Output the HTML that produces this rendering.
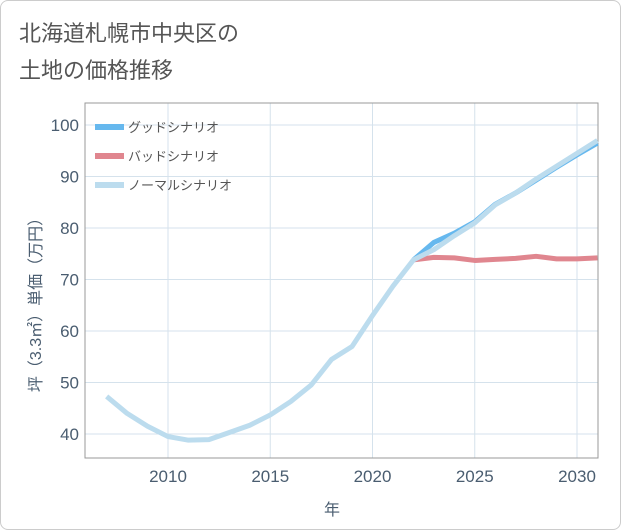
<!DOCTYPE html>
<html><head><meta charset="utf-8"><style>
body{margin:0;background:#fff;font-family:"Liberation Sans","Noto Sans CJK JP",sans-serif}
#wrap{position:relative;width:621px;height:530px;box-sizing:border-box;border:1px solid #ccc;border-radius:8px;overflow:hidden}
</style></head><body>
<div id="wrap">
<svg id="c" width="621" height="530"></svg>
</div>
<script>
const years=[2007,2008,2009,2010,2011,2012,2013,2014,2015,2016,2017,2018,2019,2020,2021,2022,2023,2024,2025,2026,2027,2028,2029,2030,2031];
const normal=[47.3,44,41.5,39.5,38.8,38.9,40.3,41.7,43.7,46.3,49.5,54.5,57,63,68.7,73.8,75.8,78.5,81,84.5,86.8,89.5,92,94.5,97];
const goodYears=[2022,2023,2024,2025,2026,2027,2028,2029,2030,2031];
const good=[73.8,77.2,79,81.2,84.6,86.8,89.3,91.8,94.2,96.5];
const bad=[73.8,74.3,74.2,73.7,73.9,74.1,74.5,74.0,74.0,74.2];
const xTicks=[2010,2015,2020,2025,2030];
const yTicks=[40,50,60,70,80,90,100];
const NS='http://www.w3.org/2000/svg';
const svg=document.getElementById('c');
const L=84,R=597,T=102,B=457;
const x=v=>167+(v-2010)*20.45;
const y=v=>433-(v-40)*5.15;
const AX='#4a5d70';
function el(t,a,txt){const e=document.createElementNS(NS,t);for(const k in a)e.setAttribute(k,a[k]);if(txt!==undefined)e.textContent=txt;svg.appendChild(e);return e;}
let t=el('text',{x:18,y:40,'font-size':22,fill:'#555'},'北海道札幌市中央区の');

t=el('text',{x:18,y:77,'font-size':22,fill:'#555'},'土地の価格推移');

yTicks.forEach(v=>{let g=el('line',{x1:L,x2:R,y1:y(v),y2:y(v),stroke:'#d5e2ec','stroke-width':1});

let l=el('text',{x:L-6,y:y(v)+6,'text-anchor':'end','font-size':17,fill:AX},v);
});
xTicks.forEach(v=>{let g=el('line',{x1:x(v),x2:x(v),y1:T,y2:B,stroke:'#d5e2ec','stroke-width':1});

let l=el('text',{x:x(v),y:B+24,'text-anchor':'middle','font-size':17,fill:AX},v);
});
let f=el('rect',{x:L,y:T,width:R-L,height:B-T,fill:'none',stroke:'#999','stroke-width':1});

t=el('text',{x:331,y:514,'text-anchor':'middle','font-size':16,fill:AX},'年');

t=el('text',{x:0,y:0,'text-anchor':'middle','font-size':16,fill:AX,transform:'translate(40,300) rotate(-90)'},'坪（3.3㎡）単価（万円）');

function line(xs,vs,col,w,name){const d=xs.map((v,i)=>(i?'L':'M')+x(v)+','+y(vs[i])).join('');
const p=el('path',{d,fill:'none',stroke:col,'stroke-width':w,'stroke-linejoin':'round'});
}
line(goodYears,bad,'#e0868f',5,'bad-scenario-line');
line(goodYears,good,'#66b8ee',5,'good-scenario-line');
line(years,normal,'#bcdcee',5,'normal-scenario-line');
const leg=[['グッドシナリオ','#66b8ee'],['バッドシナリオ','#e0868f'],['ノーマルシナリオ','#bcdcee']];
leg.forEach((e,i)=>{const yy=126+i*29;
let r=el('rect',{x:94,y:yy-3,width:29,height:6,fill:e[1]});
let l=el('text',{x:127,y:yy+5,'font-size':13,fill:'#555'},e[0]);});
</script></body></html>
